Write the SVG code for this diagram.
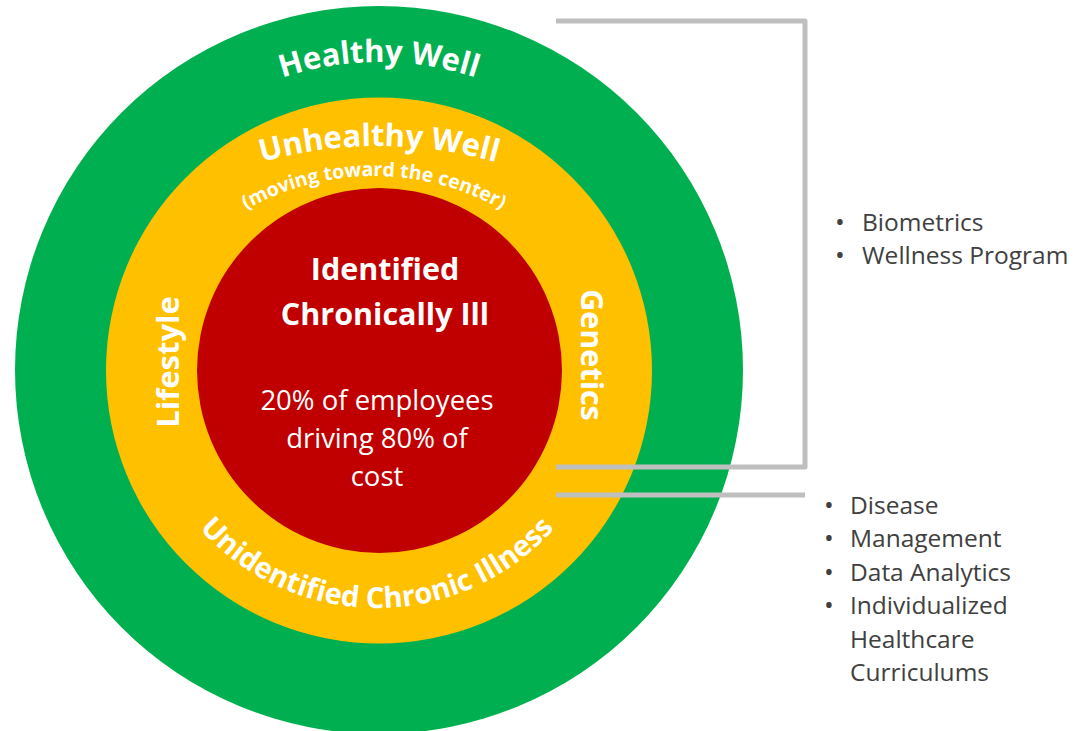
<svg xmlns="http://www.w3.org/2000/svg" width="1082" height="731" viewBox="0 0 1082 731">
<style>
.w{fill:#FFFFFF;font-family:"Open Sans","Liberation Sans",sans-serif;}
.b{font-weight:700;}
.lst{fill:#404040;font-family:"Open Sans","Liberation Sans",sans-serif;font-size:24.5px;}
.bul{font-size:26px;}
.ln{fill:none;stroke:#BFBFBF;stroke-width:5;}
</style>
<defs>
<path id="pHW" d="M71,370 A308,308 0 0 1 687,370"/>
<path id="pUW" d="M-53,578 A432,432 0 0 1 811,578"/>
<path id="pMT" d="M113,437 A261,261 0 0 1 635,437"/>
<path id="pUC" d="M139,370 A238,238 0 0 0 615,370"/>
</defs>
<rect width="1082" height="731" fill="#FFFFFF"/>
<g id="ring-healthy">
<circle cx="379" cy="370" r="364" fill="#00B050"/>
<text class="w b" font-size="31"><textPath href="#pHW" startOffset="50%" text-anchor="middle">Healthy Well</textPath></text>
</g>
<g id="ring-unhealthy">
<circle cx="379" cy="370.5" r="273" fill="#FFC000"/>
<text class="w b" font-size="31"><textPath href="#pUW" startOffset="50%" text-anchor="middle">Unhealthy Well</textPath></text>
<text class="w b" font-size="19.5"><textPath href="#pMT" startOffset="50%" text-anchor="middle">(moving toward the center)</textPath></text>
<text class="w b" font-size="31" text-anchor="middle" transform="translate(179,362) rotate(-90)">Lifestyle</text>
<text class="w b" font-size="30.5" text-anchor="middle" transform="translate(581,355) rotate(90)">Genetics</text>
<text class="w b" font-size="29"><textPath href="#pUC" startOffset="50%" text-anchor="middle">Unidentified Chronic Illness</textPath></text>
</g>
<g id="core">
<circle cx="379.5" cy="370.5" r="182.5" fill="#C00000"/>
<text class="w b" font-size="30.5" text-anchor="middle" x="385" y="280">Identified</text>
<text class="w b" font-size="30.5" text-anchor="middle" x="385" y="325">Chronically Ill</text>
<text class="w" font-size="27.5" text-anchor="middle" x="377" y="410">20% of employees</text>
<text class="w" font-size="27.5" text-anchor="middle" x="377" y="448">driving 80% of</text>
<text class="w" font-size="27.5" text-anchor="middle" x="377" y="486">cost</text>
</g>
<g id="connectors">
<path class="ln" d="M556,21 H805 V467 H556" stroke-linejoin="round"/>
<path class="ln" d="M556,495 H805"/>
</g>
<g id="list-wellness">
<text class="lst" x="835" y="231"><tspan class="bul">•</tspan><tspan x="862">Biometrics</tspan></text>
<text class="lst" x="835" y="264"><tspan class="bul">•</tspan><tspan x="862">Wellness Program</tspan></text>
</g>
<g id="list-chronic">
<text class="lst" x="824" y="514"><tspan class="bul">•</tspan><tspan x="850">Disease</tspan></text>
<text class="lst" x="824" y="547"><tspan class="bul">•</tspan><tspan x="850">Management</tspan></text>
<text class="lst" x="824" y="581"><tspan class="bul">•</tspan><tspan x="850">Data Analytics</tspan></text>
<text class="lst" x="824" y="614"><tspan class="bul">•</tspan><tspan x="850">Individualized</tspan></text>
<text class="lst" x="850" y="648">Healthcare</text>
<text class="lst" x="850" y="681">Curriculums</text>
</g>
</svg>
